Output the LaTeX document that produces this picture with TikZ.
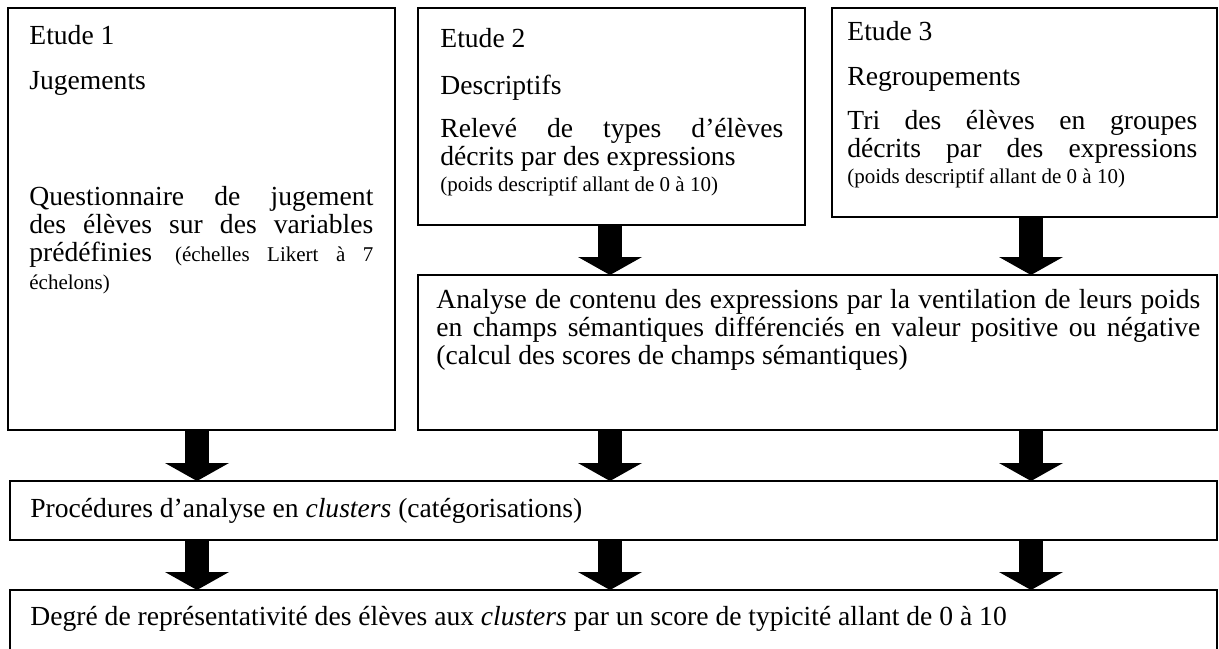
\documentclass[tikz,border=0pt]{standalone}
\usepackage{fontspec}
\setmainfont{Liberation Serif}
\usetikzlibrary{arrows.meta}

\tikzset{
  box/.style={draw, line width=1pt, inner sep=0pt, outer sep=0pt, anchor=north west},
  boxtext/.style={anchor=north west, inner sep=0pt, align=justify, font=\fontsize{13.8}{14}\selectfont},
  blockarrow/.style={line width=12pt, -{Triangle[width=32pt,length=9pt,line width=0pt]}},
}
\newcommand{\petit}[1]{{\fontsize{10.5}{13}\selectfont #1}}

\begin{document}
\begin{tikzpicture}[x=0.5pt,y=-0.5pt]
    \useasboundingbox (0,0) rectangle (1219,648);
    \clip (0,0) rectangle (1219,648);

    % Etudes
    \node (etude1) [box, minimum width=193.5pt, minimum height=211pt] at (8,8) {};
    \node (etude2) [box, minimum width=193.5pt, minimum height=108.5pt] at (418,8) {};
    \node (etude3) [box, minimum width=192.5pt, minimum height=104.5pt] at (832,8) {};

    % Analyse, clusters, typicite
    \node (analyse) [box, minimum width=399.5pt, minimum height=77.5pt] at (418,275) {};
    \node (clusters) [box, minimum width=603.5pt, minimum height=29.5pt] at (10,481) {};
    \node (typicite) [box, minimum width=603.5pt, minimum height=45pt] at (10,590) {};

    % Texts
    \node (t1) [boxtext, text width=172pt] at (29,25)
        {Etude 1\par\vspace{8.5pt}Jugements\par\vspace{44pt}Questionnaire de jugement\linebreak
         des élèves sur des variables\linebreak prédéfinies \petit{(échelles Likert à 7\linebreak échelons)}};
    \node (t2) [boxtext, text width=171.5pt] at (440,28)
        {Etude 2\par\vspace{9.5pt}Descriptifs\par\vspace{7.5pt}Relevé de types d’élèves\linebreak
         décrits par des expressions\par\petit{(poids descriptif allant de 0 à 10)\par}};
    \node (t3) [boxtext, text width=175pt] at (847,21)
        {Etude 3\par\vspace{8.5pt}Regroupements\par\vspace{8pt}Tri des élèves en groupes\linebreak
         décrits par des expressions{\parfillskip=0pt\par}\petit{(poids descriptif allant de 0 à 10)\par}};
    \node (t4) [boxtext, text width=382pt] at (436,289)
        {Analyse de contenu des expressions par la ventilation de leurs poids\linebreak
         en champs sémantiques différenciés en valeur positive ou négative\linebreak
         (calcul des scores de champs sémantiques)};
    \node (t5) [boxtext, anchor=west] at (30,511)
        {Procédures d’analyse en \textit{clusters} (catégorisations)};
    \node (t6) [boxtext, anchor=west] at (30,619)
        {Degré de représentativité des élèves aux \textit{clusters} par un score de typicité allant de 0 à 10};

    % Arrows
    \coordinate (colA) at (197,0);
    \coordinate (colB) at (610,0);
    \coordinate (colC) at (1031,0);
    \draw [blockarrow] (etude2.south -| colB) -- (analyse.north -| colB);
    \draw [blockarrow] (etude3.south -| colC) -- (analyse.north -| colC);
    \draw [blockarrow] (etude1.south -| colA) -- (clusters.north -| colA);
    \foreach \col in {colB, colC}
    {
      \draw [blockarrow] (analyse.south -| \col) -- (clusters.north -| \col);
    };
    \foreach \col in {colA, colB, colC}
    {
      \draw [blockarrow] (clusters.south -| \col) -- (typicite.north -| \col);
    };
\end{tikzpicture}
\end{document}
